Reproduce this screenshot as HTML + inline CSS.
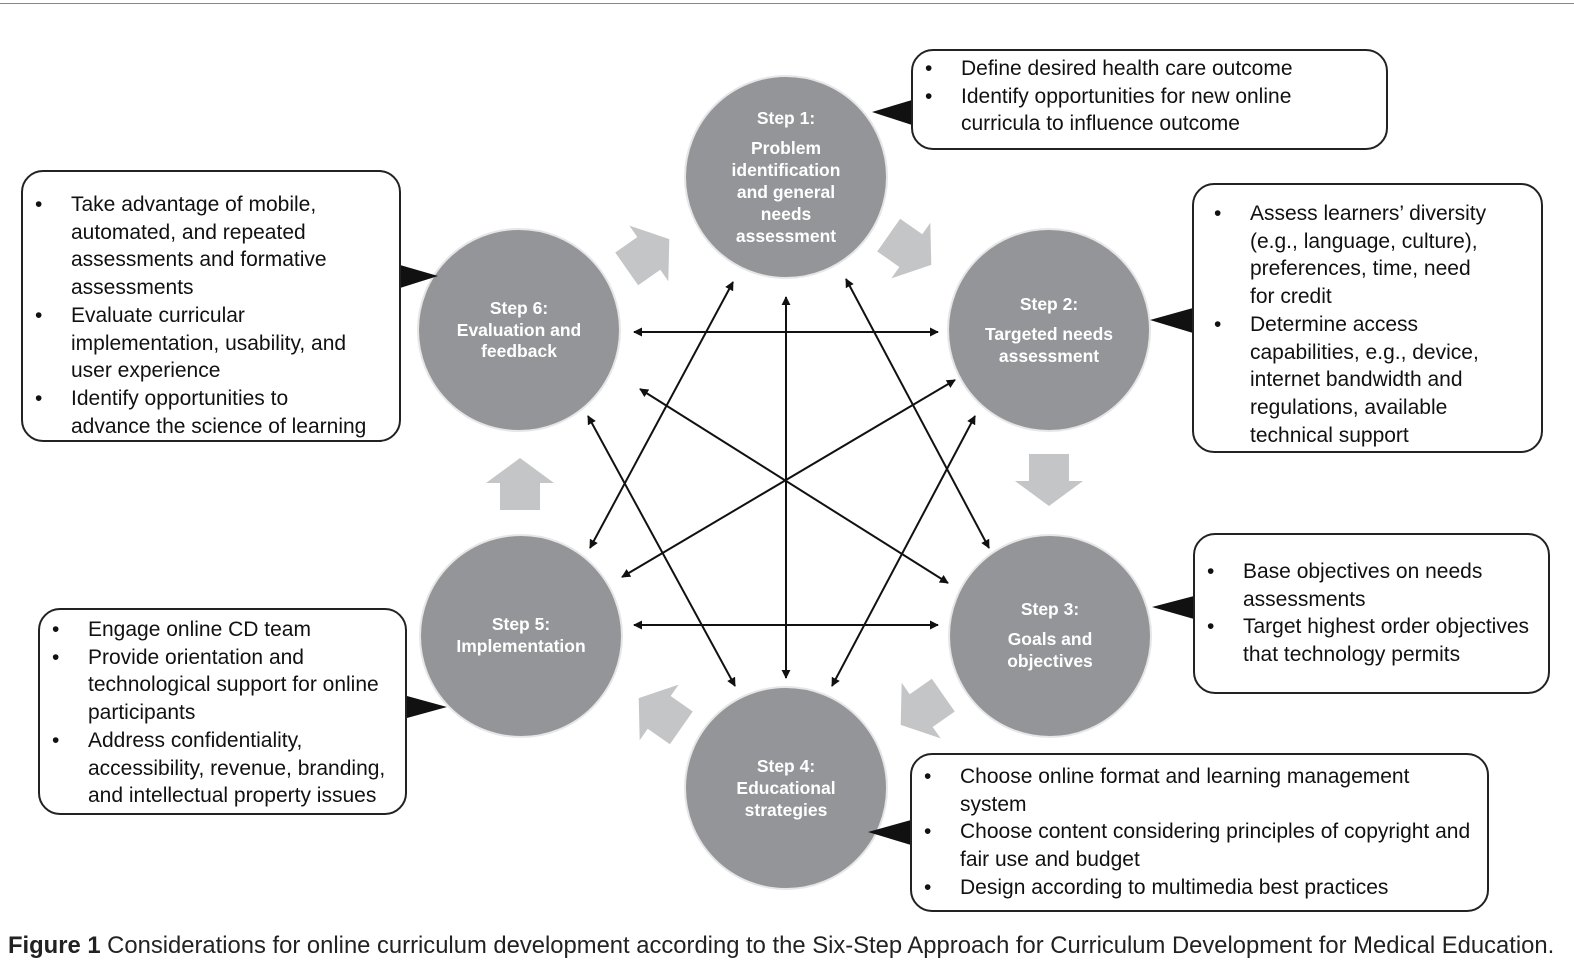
<!DOCTYPE html>
<html><head><meta charset="utf-8"><style>
body{margin:0;background:#fff;width:1574px;height:963px;overflow:hidden;position:relative;font-family:"Liberation Sans",sans-serif}
.box{position:absolute;border:2px solid #222;border-radius:22px;box-sizing:border-box;font-size:21px;line-height:27.7px;color:#111;background:#fff;white-space:nowrap}
.box ul{margin:0;padding:0;list-style:none}
.box li{position:relative;padding-left:48px}
.box li:before{content:"•";position:absolute;left:12px}
.cap{position:absolute;left:8px;top:932px;font-size:23.8px;color:#222;white-space:nowrap}
</style></head><body>
<div style="position:absolute;left:0;top:3px;width:1574px;height:1px;background:#888"></div>
<svg width="1574" height="963" style="position:absolute;left:0;top:0">
<defs>
<marker id="a" viewBox="0 0 10 10" refX="9" refY="5" markerWidth="9" markerHeight="9" markerUnits="userSpaceOnUse" orient="auto-start-reverse"><path d="M0,0L10,5L0,10z" fill="#111"/></marker>
<path id="ba" d="M-26,-20L1,-20L1,-34L26,0L1,34L1,20L-26,20z" fill="#c4c5c7"/>
</defs>
<g fill="#939598" stroke="#e6e6e6" stroke-width="2">
<circle cx="786" cy="177" r="101"/><circle cx="1049" cy="330" r="101"/><circle cx="1050" cy="636" r="101"/>
<circle cx="786" cy="788" r="101"/><circle cx="521" cy="636" r="101"/><circle cx="519" cy="330" r="101"/>
</g>
<g stroke="#111" stroke-width="2" marker-start="url(#a)" marker-end="url(#a)">
<line x1="634" y1="332" x2="938" y2="332"/><line x1="634" y1="625" x2="938" y2="625"/>
<line x1="786" y1="297" x2="786" y2="678"/><line x1="733" y1="282" x2="590" y2="548"/>
<line x1="846" y1="279" x2="989" y2="548"/><line x1="955" y1="380" x2="622" y2="577"/>
<line x1="640" y1="389" x2="948" y2="583"/><line x1="588" y1="416" x2="735" y2="686"/>
<line x1="975" y1="416" x2="832" y2="686"/>
</g>
<use href="#ba" transform="translate(910,250) rotate(35)"/>
<use href="#ba" transform="translate(1049,480) rotate(90)"/>
<use href="#ba" transform="translate(922,710) rotate(145)"/>
<use href="#ba" transform="translate(660,713) rotate(-145)"/>
<use href="#ba" transform="translate(520,484) rotate(-90)"/>
<use href="#ba" transform="translate(648,254) rotate(-35)"/>
<g fill="#111">
<path d="M872,112L912,100L912,125z"/><path d="M1150,320L1193,308L1193,333z"/>
<path d="M1152,607L1194,596L1194,619z"/><path d="M868,832L911,820L911,845z"/>
<path d="M447,707L407,696L407,718z"/><path d="M438,276L400,265L400,288z"/>
</g>
<g fill="#fff" font-family="Liberation Sans,sans-serif" font-weight="bold" font-size="17.5" text-anchor="middle">
<text x="786" y="124">Step 1:</text>
<text x="786" y="154">Problem</text><text x="786" y="176">identification</text><text x="786" y="198">and general</text><text x="786" y="220">needs</text><text x="786" y="242">assessment</text>
<text x="1049" y="310">Step 2:</text><text x="1049" y="340">Targeted needs</text><text x="1049" y="362">assessment</text>
<text x="1050" y="615">Step 3:</text><text x="1050" y="645">Goals and</text><text x="1050" y="667">objectives</text>
<text x="786" y="772">Step 4:</text><text x="786" y="794">Educational</text><text x="786" y="816">strategies</text>
<text x="521" y="630">Step 5:</text><text x="521" y="652">Implementation</text>
<text x="519" y="314">Step 6:</text><text x="519" y="336">Evaluation and</text><text x="519" y="357">feedback</text>
</g>
</svg>
<div class="box" style="left:911px;top:49px;width:477px;height:101px;padding-top:4px"><ul><li>Define desired health care outcome</li><li>Identify opportunities for new online<br>curricula to influence outcome</li></ul></div>
<div class="box" style="left:1192px;top:183px;width:351px;height:270px;padding-top:15px"><ul style="margin-left:8px"><li>Assess learners’ diversity<br>(e.g., language, culture),<br>preferences, time, need<br>for credit</li><li>Determine access<br>capabilities, e.g., device,<br>internet bandwidth and<br>regulations, available<br>technical support</li></ul></div>
<div class="box" style="left:1193px;top:533px;width:357px;height:161px;padding-top:23px"><ul><li>Base objectives on needs<br>assessments</li><li>Target highest order objectives<br>that technology permits</li></ul></div>
<div class="box" style="left:910px;top:753px;width:579px;height:159px;padding-top:8px"><ul><li>Choose online format and learning management<br>system</li><li>Choose content considering principles of copyright and<br>fair use and budget</li><li>Design according to multimedia best practices</li></ul></div>
<div class="box" style="left:38px;top:608px;width:369px;height:207px;padding-top:6px"><ul><li>Engage online CD team</li><li>Provide orientation and<br>technological support for online<br>participants</li><li>Address confidentiality,<br>accessibility, revenue, branding,<br>and intellectual property issues</li></ul></div>
<div class="box" style="left:21px;top:170px;width:380px;height:272px;padding-top:19px"><ul><li>Take advantage of mobile,<br>automated, and repeated<br>assessments and formative<br>assessments</li><li>Evaluate curricular<br>implementation, usability, and<br>user experience</li><li>Identify opportunities to<br>advance the science of learning</li></ul></div>
<div class="cap"><b>Figure 1</b> Considerations for online curriculum development according to the Six-Step Approach for Curriculum Development for Medical Education.</div>
</body></html>
